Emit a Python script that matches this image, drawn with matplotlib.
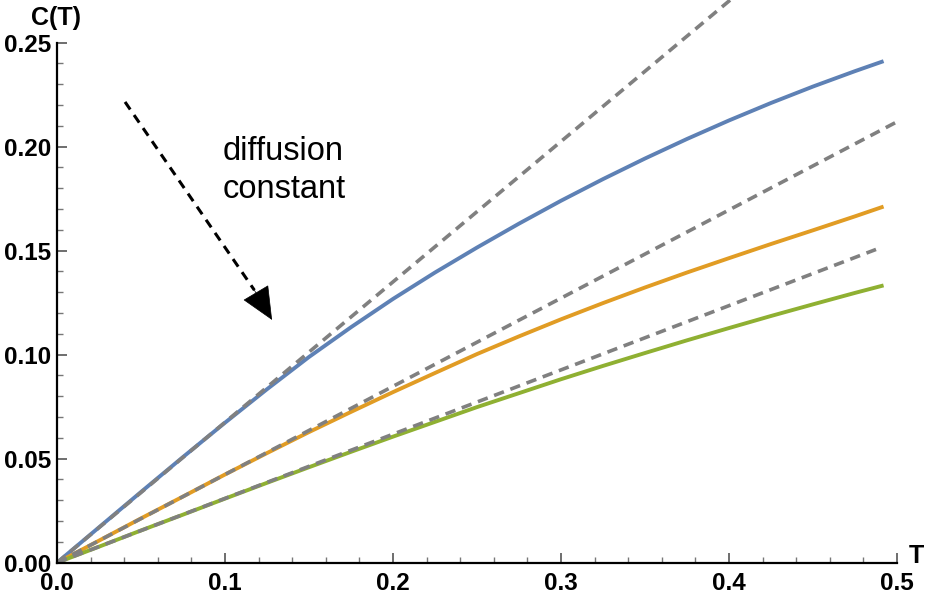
import matplotlib
matplotlib.use("Agg")
import matplotlib.pyplot as plt
from matplotlib.ticker import FixedLocator, FormatStrFormatter

plt.rcParams['font.family'] = ['Liberation Sans', 'DejaVu Sans']

# values
T = [0.0, 0.025, 0.05, 0.075, 0.1, 0.125, 0.15, 0.175, 0.2, 0.225, 0.25,
     0.275, 0.3, 0.325, 0.35, 0.375, 0.4, 0.425, 0.45, 0.475, 0.492]
C_blue = [0.0, 0.0170, 0.0340, 0.0508, 0.0673, 0.0834, 0.0989, 0.1132, 0.1268, 0.1395, 0.1515,
          0.1630, 0.1740, 0.1844, 0.1943, 0.2037, 0.2126, 0.2210, 0.2289, 0.2363, 0.2411]
C_orange = [0.0, 0.0106, 0.0213, 0.0318, 0.0424, 0.0527, 0.0628, 0.0725, 0.0820, 0.0912, 0.1003,
            0.1088, 0.1170, 0.1248, 0.1323, 0.1395, 0.1464, 0.1532, 0.1598, 0.1665, 0.1712]
C_green = [0.0, 0.0077, 0.0155, 0.0231, 0.0308, 0.0384, 0.0459, 0.0533, 0.0606, 0.0677, 0.0748,
           0.0815, 0.0882, 0.0946, 0.1008, 0.1069, 0.1128, 0.1186, 0.1242, 0.1297, 0.1333]

# straight dashed approximations (start and end points)
lin_T = [[0.0, 0.492], [0.0, 0.4994], [0.0, 0.4875]]
lin_C = [[0.0, 0.3321], [0.0, 0.2117], [0.0, 0.1506]]

colors = ['#5E81B5', '#E19C24', '#8FB032']

fig = plt.figure(figsize=(9.32, 6.05), dpi=100)
ax = fig.add_axes([57 / 932, 42.3 / 605, 840 / 932, 562.7 / 605])

for c, col in zip([C_blue, C_orange, C_green], colors):
    ax.plot(T, c, color=col, lw=2.8, solid_capstyle='butt', solid_joinstyle='round')
for lt, lc in zip(lin_T, lin_C):
    ax.plot(lt, lc, color='#808080', lw=2.6, linestyle=(0, (2.9, 1.9)))

ax.set_xlim(0, 0.5)
ax.set_ylim(0, 0.2705)

for s in ['top', 'right']:
    ax.spines[s].set_visible(False)
ax.spines['left'].set_bounds(0, 0.25)
ax.spines['bottom'].set_bounds(0, 0.5)
for s in ['left', 'bottom']:
    ax.spines[s].set_linewidth(1.6)

ax.set_xticks([0, 0.1, 0.2, 0.3, 0.4, 0.5])
ax.set_yticks([0, 0.05, 0.1, 0.15, 0.2, 0.25])
ax.xaxis.set_minor_locator(FixedLocator([i * 0.02 for i in range(26)]))
ax.yaxis.set_minor_locator(FixedLocator([i * 0.01 for i in range(26)]))
ax.xaxis.set_major_formatter(FormatStrFormatter('%.1f'))
ax.yaxis.set_major_formatter(FormatStrFormatter('%.2f'))

ax.tick_params(which='major', direction='in', length=7, width=1.2, color='#555555',
               labelsize=17.5)
ax.tick_params(axis='y', which='major', pad=4)
ax.tick_params(axis='x', which='major', pad=7)
ax.tick_params(which='minor', direction='in', length=4, width=1.0, color='#777777')
for lab in ax.get_xticklabels() + ax.get_yticklabels():
    lab.set_fontweight('bold')

fig.text(56 / 932, 1 - 17.5 / 605, 'C(T)', ha='center', va='center',
         fontsize=18, fontweight='bold')
fig.text(916 / 932, 1 - 556 / 605, 'T', ha='center', va='center',
         fontsize=18, fontweight='bold')

ax.text(0.0988, 0.1936, 'diffusion', fontsize=23.5, ha='left', va='baseline')
ax.text(0.0988, 0.1752, 'constant', fontsize=23.5, ha='left', va='baseline')

# dashed arrow with solid head
ax.plot([0.0405, 0.1175], [0.2215, 0.1310], color='black', lw=2.2, linestyle=(0, (3.0, 2.2)))
ax.annotate('', xy=(0.128, 0.1167), xytext=(0.1160, 0.1330),
            arrowprops=dict(arrowstyle='-|>,head_length=1.0,head_width=0.45',
                            color='black', lw=0.5, shrinkA=0, shrinkB=0,
                            mutation_scale=22))

fig.savefig('out.png', dpi=100)
